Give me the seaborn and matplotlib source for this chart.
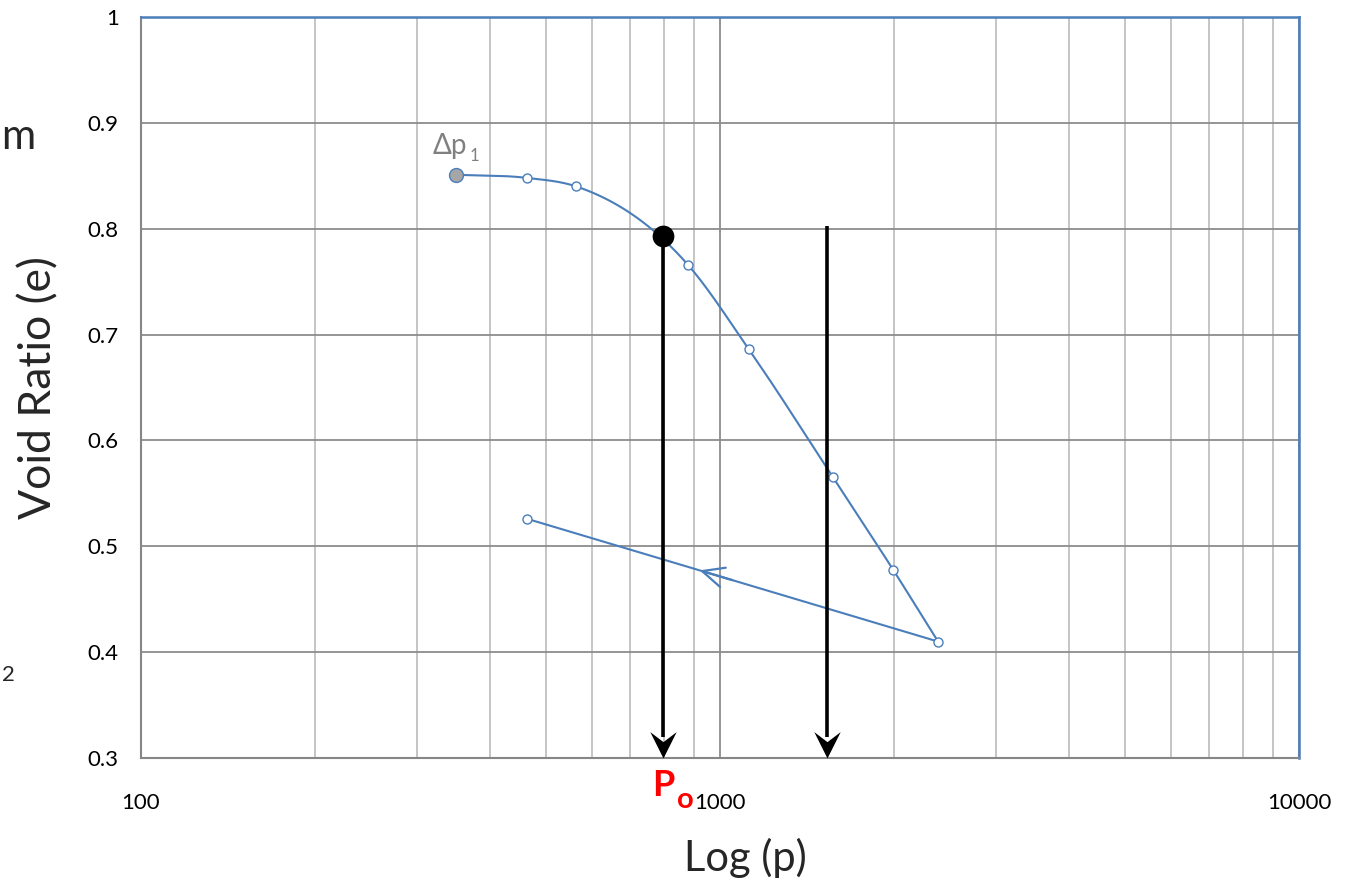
import numpy as np
import pandas as pd
import matplotlib
matplotlib.use("Agg")
import matplotlib.pyplot as plt
from matplotlib.path import Path
import seaborn as sns

# Consolidation test: loading branch and unloading branch
load_p = [350, 464, 564, 880, 1122, 1568, 1990, 2380]
load_e = [0.851, 0.848, 0.840, 0.766, 0.686, 0.565, 0.478, 0.410]
unload_p = [2380, 464]
unload_e = [0.410, 0.526]

# Preconsolidation pressure and the second marked pressure
po_p, po_e = 797, 0.793
p2_p, p2_e = 1530, 0.803

x_ticks = [100, 1000, 10000]
x_tick_labels = ["100", "1000", "10000"]
y_ticks = [0.3, 0.4, 0.5, 0.6, 0.7, 0.8, 0.9, 1.0]
y_tick_labels = ["0.3", "0.4", "0.5", "0.6", "0.7", "0.8", "0.9", "1"]

BLUE = "#4a7ebb"
FONT = "Lato"

sns.set_theme(style="white")
plt.rcParams["font.family"] = [FONT, "DejaVu Sans"]

fig = plt.figure(figsize=(13.47, 8.83), dpi=100)
ax = fig.add_axes([141 / 1347, 1 - 758 / 883, (1299 - 141) / 1347, (758 - 17) / 883])
ax.set_xscale("log")
ax.set_xlim(100, 10000)
ax.set_ylim(0.3, 1.0)

# grid: light minor verticals, darker decades and horizontals
ax.set_xticks([m * 10 ** k for k in (2, 3) for m in range(2, 10)], minor=True)
ax.grid(True, which="minor", axis="x", color="#c0c0c0", lw=1.3)
ax.grid(True, which="major", axis="x", color="#8c8c8c", lw=1.3)
ax.grid(True, which="major", axis="y", color="#8c8c8c", lw=1.3)
ax.set_axisbelow(True)

ax.set_xticks(x_ticks)
ax.set_xticklabels(x_tick_labels)
ax.set_yticks(y_ticks)
ax.set_yticklabels(y_tick_labels)
ax.tick_params(axis="both", which="both", length=0, labelsize=16, colors="black")
ax.tick_params(axis="y", pad=16)
ax.tick_params(axis="x", pad=25)

for side in ("left", "bottom"):
    ax.spines[side].set_color("#868686")
    ax.spines[side].set_linewidth(1.5)
for side in ("top", "right"):
    ax.spines[side].set_color(BLUE)
    ax.spines[side].set_linewidth(1.8)


def smooth(px, py, n=40):
    """Piecewise cubic Hermite curve (parabolic tangents) in screen-proportional space."""
    X = (np.log10(px) - 2) / 2 * 1158
    Y = (np.asarray(py) - 0.3) / 0.7 * 741
    h = np.diff(X)
    s = np.diff(Y) / h
    d = np.empty(len(X))
    d[0], d[-1] = s[0], s[-1]
    for i in range(1, len(X) - 1):
        d[i] = (h[i] * s[i - 1] + h[i - 1] * s[i]) / (h[i - 1] + h[i])
    xs, ys = [], []
    for i in range(len(X) - 1):
        t = np.linspace(0, 1, n)
        if i > 0:
            t = t[1:]
        h00 = 2 * t ** 3 - 3 * t ** 2 + 1
        h10 = t ** 3 - 2 * t ** 2 + t
        h01 = -2 * t ** 3 + 3 * t ** 2
        h11 = t ** 3 - t ** 2
        xs.append(X[i] + t * h[i])
        ys.append(h00 * Y[i] + h10 * h[i] * d[i] + h01 * Y[i + 1] + h11 * h[i] * d[i + 1])
    xs, ys = np.concatenate(xs), np.concatenate(ys)
    return 10 ** (xs / 1158 * 2 + 2), ys / 741 * 0.7 + 0.3


sx, sy = smooth(load_p, load_e)
curve = pd.DataFrame({"p": sx, "e": sy})
sns.lineplot(data=curve, x="p", y="e", sort=False, estimator=None, color=BLUE, lw=1.5, ax=ax, zorder=3)
unload = pd.DataFrame({"p": unload_p, "e": unload_e})
sns.lineplot(data=unload, x="p", y="e", sort=False, estimator=None, color=BLUE, lw=1.5, ax=ax, zorder=3)

# direction arrow on the unloading branch
t_head = 0.58
lx0, lx1 = np.log10(unload_p[0]), np.log10(unload_p[1])
hx = 10 ** (lx0 + (lx1 - lx0) * t_head)
hy = unload_e[0] + (unload_e[1] - unload_e[0]) * t_head
tx = 10 ** (lx0 + (lx1 - lx0) * (t_head - 0.08))
ty = unload_e[0] + (unload_e[1] - unload_e[0]) * (t_head - 0.08)
ax.annotate("", xy=(hx, hy), xytext=(tx, ty),
            arrowprops=dict(arrowstyle="->,head_length=1.3,head_width=0.6", color=BLUE, lw=1.6,
                            shrinkA=0, shrinkB=0),
            zorder=4)

# measured points
pts = pd.DataFrame({"p": load_p[1:] + [unload_p[1]], "e": load_e[1:] + [unload_e[1]]})
sns.scatterplot(data=pts, x="p", y="e", s=42, color="white", edgecolor=BLUE, linewidth=1.0, ax=ax, zorder=5)
sns.scatterplot(x=[load_p[0]], y=[load_e[0]], s=100, color="#a6a6a6", edgecolor=BLUE, linewidth=1.0, ax=ax, zorder=5)

# vertical arrows down to the pressure axis
stealth = Path([(0, 0), (-0.5, 1.0), (0, 0.62), (0.5, 1.0), (0, 0)],
               [Path.MOVETO, Path.LINETO, Path.LINETO, Path.LINETO, Path.CLOSEPOLY])
for xp, ye in [(po_p, po_e), (p2_p, p2_e)]:
    ax.plot([xp, xp], [ye, 0.32], color="black", lw=2.6, zorder=6, solid_capstyle="butt")
    ax.plot([xp], [0.3], marker=stealth, markersize=38, color="black", markeredgewidth=0,
            zorder=7, clip_on=False)
sns.scatterplot(x=[po_p], y=[po_e], s=210, color="black", edgecolor="black", ax=ax, zorder=8)

# annotations
ax.annotate("Δp", xy=(load_p[0], load_e[0]), xytext=(-17, 15), textcoords="offset points",
            color="#808080", fontsize=20, ha="left", va="baseline")
ax.annotate("1", xy=(load_p[0], load_e[0]), xytext=(9.5, 10), textcoords="offset points",
            color="#808080", fontsize=12, ha="left", va="baseline")
ax.annotate("P", xy=(po_p, 0.3), xytext=(-7.5, -27), textcoords="offset points",
            color="#ff0000", fontsize=26, fontweight="bold", ha="left", va="baseline")
ax.annotate("o", xy=(po_p, 0.3), xytext=(10, -36), textcoords="offset points",
            color="#ff0000", fontsize=21, fontweight="bold", ha="left", va="baseline")

ax.set_xlabel("Log (p)", fontsize=30)
ax.set_ylabel("Void Ratio (e)", fontsize=32)
ax.xaxis.set_label_coords((745 - 141) / 1158, -0.108)
ax.yaxis.set_label_coords(-0.070, 0.5)

fig.text(1.5 / 1347, 1 - 137 / 883, "m", fontsize=30, ha="left", va="center")
fig.text(2 / 1347, 1 - 675 / 883, "2", fontsize=16, ha="left", va="center")

fig.savefig("out.png", dpi=100)
